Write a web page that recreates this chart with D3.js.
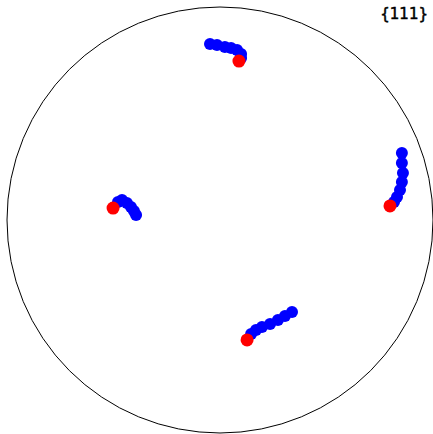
<!DOCTYPE html>
<html>
<head>
<meta charset="utf-8">
<script src="https://cdn.jsdelivr.net/npm/d3@7"></script>
<style>
  html, body { margin: 0; padding: 0; background: #fff; }
  svg { display: block; }
</style>
</head>
<body>
<div id="chart"></div>
<script>
// figura de polos {111}: trajetórias em azul, posição final em vermelho
const d3 = window.d3;

const POLE_LABEL = "{111}";

// coordenadas no disco unitário (projeção estereográfica)
const trackTop = [
  [-0.047, 0.826], [-0.014, 0.822], [0.023, 0.812], [0.052, 0.808],
  [0.080, 0.798], [0.099, 0.779], [0.099, 0.761],
];
const trackRight = [
  [0.854, 0.315], [0.854, 0.268], [0.859, 0.221], [0.854, 0.178],
  [0.845, 0.141], [0.831, 0.108], [0.817, 0.085],
];
const trackLeft = [
  [-0.394, 0.023], [-0.404, 0.042], [-0.418, 0.061], [-0.437, 0.080],
  [-0.460, 0.094], [-0.479, 0.085],
];
const trackBottom = [
  [0.338, -0.432], [0.305, -0.451], [0.272, -0.469], [0.235, -0.488],
  [0.197, -0.502], [0.169, -0.516], [0.146, -0.535],
];
const finalPoles = [
  [0.089, 0.746], [0.798, 0.066], [-0.502, 0.056], [0.127, -0.563],
];

const W = 433;
const H = 434;
const CX = 220;
const CY = 220;
const R = 213;

const x = d3.scaleLinear().domain([-1, 1]).range([CX - R, CX + R]);
const y = d3.scaleLinear().domain([-1, 1]).range([CY + R, CY - R]);

const svg = d3.select("#chart").append("svg").attr("width", W).attr("height", H);

svg
  .append("circle")
  .attr("cx", x(0))
  .attr("cy", y(0))
  .attr("r", x(1) - x(0))
  .attr("fill", "none")
  .attr("stroke", "#000")
  .attr("stroke-width", 1);

const blue = [...trackTop, ...trackRight, ...trackLeft, ...trackBottom];

svg
  .append("g")
  .selectAll("circle")
  .data(blue)
  .join("circle")
  .attr("cx", (d) => x(d[0]))
  .attr("cy", (d) => y(d[1]))
  .attr("r", 6)
  .attr("fill", "#0000ff");

svg
  .append("g")
  .selectAll("circle")
  .data(finalPoles)
  .join("circle")
  .attr("cx", (d) => x(d[0]))
  .attr("cy", (d) => y(d[1]))
  .attr("r", 6.5)
  .attr("fill", "#ff0000");

// rótulo um pouco "engordado" com stroke fino, como na figura original
svg
  .append("text")
  .attr("x", 428)
  .attr("y", 19)
  .attr("text-anchor", "end")
  .attr("font-family", "DejaVu Sans")
  .attr("font-size", 15)
  .attr("fill", "#000")
  .attr("stroke", "#000")
  .attr("stroke-width", 0.5)
  .text(POLE_LABEL);
</script>
</body>
</html>
